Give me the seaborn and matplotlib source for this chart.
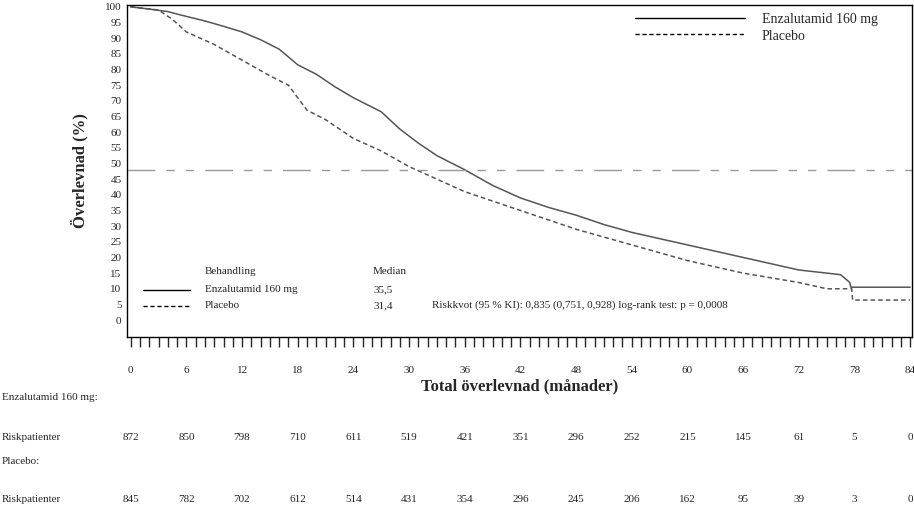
import matplotlib
matplotlib.use("Agg")
import matplotlib.pyplot as plt
import matplotlib.transforms as mtrans
import seaborn as sns
import pandas as pd
import numpy as np

sns.set_style("white")
plt.rcParams['font.family'] = ['Liberation Serif', 'DejaVu Serif']

enza_t = [0, 2, 4, 5.4, 8, 10, 12, 14, 16, 18, 20, 22, 24, 27, 29, 31, 33, 36, 39, 42, 45, 48, 51, 54, 57, 60, 63, 66, 69, 72, 75, 76.5, 77.5, 77.6, 84]
enza_s = [100, 99.3, 98.5, 97.4, 95.5, 93.8, 92, 89.5, 86.5, 81.5, 78.5, 74.5, 71, 66.5, 61, 56.5, 52.5, 48, 43, 39, 36, 33.5, 30.5, 28, 26, 24, 22, 20, 18, 16, 15, 14.5, 12, 10.5, 10.5]
plac_t = [0, 3, 4.5, 6, 9, 12, 15, 17, 19, 21, 24, 27, 30, 33, 36, 39, 42, 45, 48, 51, 54, 57, 60, 63, 66, 69, 72, 75, 77.7, 77.8, 84]
plac_s = [100, 99, 96, 92, 88, 83, 78, 75, 67, 64, 58, 54, 49, 45, 41, 38, 35, 32, 29, 26.5, 24, 21.5, 19, 17, 15, 13.5, 12, 10, 10, 6.4, 6.4]
risk_months = list(range(0, 85, 6))
risk_enza = [872, 850, 798, 710, 611, 519, 421, 351, 296, 252, 215, 145, 61, 5, 0]
risk_plac = [845, 782, 702, 612, 514, 431, 354, 296, 245, 206, 162, 95, 39, 3, 0]

df = pd.concat([
    pd.DataFrame({"t": enza_t, "s": enza_s, "g": "Enzalutamid 160 mg"}),
    pd.DataFrame({"t": plac_t, "s": plac_s, "g": "Placebo"}),
])

W, H = 914, 509
fig = plt.figure(figsize=(W/100, H/100), dpi=100)
ax = fig.add_axes([127/W, (H-337)/H, (912-127)/W, (337-5)/H])
col = "#555555"
sns.lineplot(data=df, x="t", y="s", style="g", ax=ax, color=col, lw=1.1,
             dashes={"Enzalutamid 160 mg": "", "Placebo": (3, 2)}, legend=False, estimator=None, sort=False)
ax.axhline(48, color="#999999", lw=1, dashes=(20, 8, 6, 8, 6, 8))
ax.set_xlim(-0.4, 84.2)
ax.set_ylim(-5.4, 100.6)
ax.set_yticks(range(0, 101, 5))
ax.set_xticks(risk_months)
ax.set_xticks(range(0, 85), minor=True)
ax.tick_params(axis='y', length=0, labelsize=8, pad=4)
ax.tick_params(axis='x', which='both', direction='out', length=7, width=1, labelsize=8, pad=14, bottom=True)
for s in ax.spines.values():
    s.set_color("black"); s.set_linewidth(1)
ax.set_xlabel("Total överlevnad (månader)", fontsize=12, fontweight='bold', labelpad=2)
ax.set_ylabel("Överlevnad (%)", fontsize=12, fontweight='bold', labelpad=12)

# top-right legend
def figline(x0, x1, y, dashed):
    fig.add_artist(plt.Line2D([x0/W, x1/W], [1-y/H, 1-y/H], color="black", lw=1,
                              linestyle=(0, (3, 2)) if dashed else "-"))
figline(635, 745, 18, False); figline(635, 745, 34, True)
fig.text(762/W, 1-20/H, "Enzalutamid 160 mg", fontsize=10, va="center")
fig.text(762/W, 1-36/H, "Placebo", fontsize=10, va="center")
# inner legend
fig.text(205/W, 1-271/H, "Behandling", fontsize=8, va="center")
fig.text(373/W, 1-271/H, "Median", fontsize=8, va="center")
figline(143, 190, 290, False); figline(143, 190, 306, True)
fig.text(205/W, 1-290/H, "Enzalutamid 160 mg", fontsize=8, va="center")
fig.text(205/W, 1-306/H, "Placebo", fontsize=8, va="center")
fig.text(373/W, 1-290/H, "35,5", fontsize=8, va="center")
fig.text(373/W, 1-306/H, "31,4", fontsize=8, va="center")
fig.text(432/W, 1-305/H, "Riskkvot (95 % KI): 0,835 (0,751, 0,928) log-rank test: p = 0,0008", fontsize=8, va="center")

# risk table
tr = mtrans.blended_transform_factory(ax.transData, fig.transFigure)
fig.text(2/W, 1-398/H, "Enzalutamid 160 mg:", fontsize=8, va="center")
fig.text(2/W, 1-437/H, "Riskpatienter", fontsize=8, va="center")
fig.text(2/W, 1-462/H, "Placebo:", fontsize=8, va="center")
fig.text(2/W, 1-500/H, "Riskpatienter", fontsize=8, va="center")
for m, a, b in zip(risk_months, risk_enza, risk_plac):
    fig.text(m, 1-437/H, str(a), transform=tr, fontsize=8, ha="center", va="center")
    fig.text(m, 1-500/H, str(b), transform=tr, fontsize=8, ha="center", va="center")

fig.savefig("out.png", dpi=100)
